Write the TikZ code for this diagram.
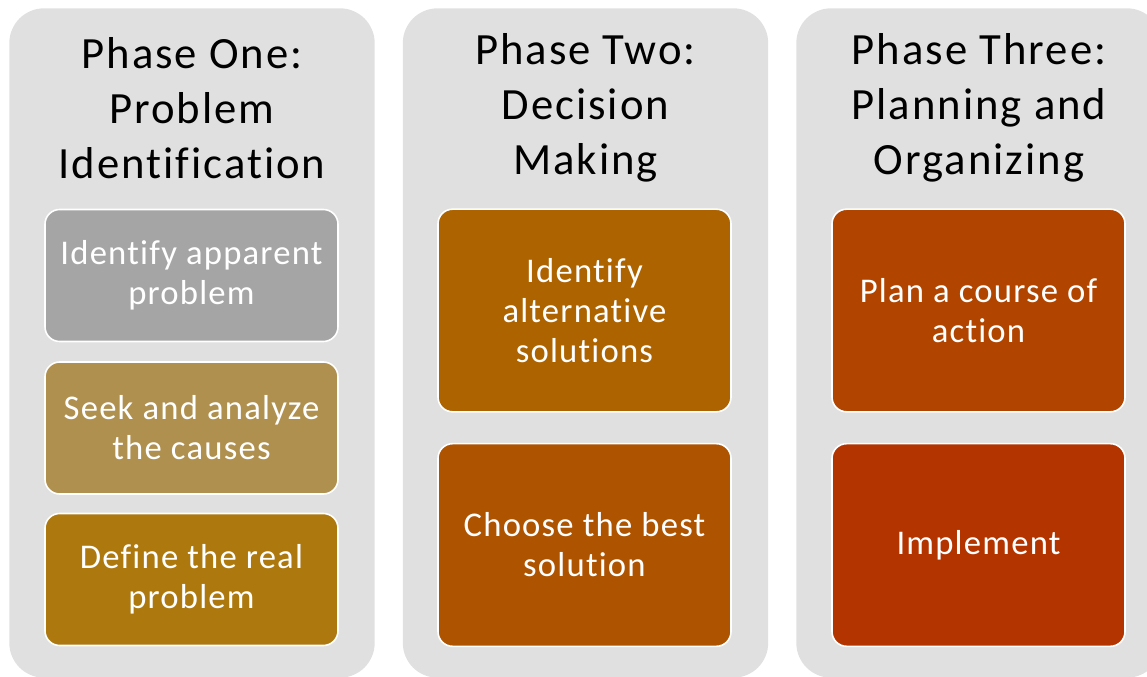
\documentclass[tikz,border=0pt]{standalone}
\usepackage{fontspec}
\setmainfont{Carlito}[Ligatures=NoCommon]
\newfontfamily\phasefont{Carlito}[LetterSpace=4.5,Ligatures=NoCommon]
\newfontfamily\stepfont{Carlito}[LetterSpace=3.5,Ligatures=NoCommon]
\usepackage{xcolor}
\definecolor{phasebg}{HTML}{E0E0E0}
\definecolor{stepgray}{HTML}{A5A5A5}
\definecolor{steptan}{HTML}{B0904F}
\definecolor{stepochre}{HTML}{AD780E}
\definecolor{stepamber}{HTML}{AD6300}
\definecolor{steprust}{HTML}{AE5300}
\definecolor{stepbrick}{HTML}{B14500}
\definecolor{stepred}{HTML}{B43400}

\begin{document}
\begin{tikzpicture}[x=0.75pt,y=0.75pt,yscale=-1,xscale=1,
    phase/.style={fill=phasebg, draw=none, rounded corners=26pt, minimum width=274pt, minimum height=502pt, inner sep=0pt},
    phasetitle/.style={align=center, inner sep=0pt, font=\phasefont\fontsize{33.5}{41.2}\selectfont},
    stepbox/.style={draw=white, line width=1.2pt, rounded corners=11pt, minimum width=219.75pt, inner sep=0pt, align=center, text=white, font=\stepfont\fontsize{26}{30}\selectfont},
    short/.style={minimum height=99pt},
    tall/.style={minimum height=152pt}]
        \clip (0,0) rectangle (1147,677);
        
        %Shape: Phase columns
        \node [phase] (one) at (192,343) {};
        \node [phase] (two) at (585.5,343) {};
        \node [phase] (three) at (979,343) {};
        
        % Text Node
        \node [phasetitle] (onetitle) at (192,108) {Phase One:\\Problem\\Identification};
        % Text Node
        \node [phasetitle] (twotitle) at (585.5,108) {Phase Two:\\Decision\\Making};
        % Text Node
        \node [phasetitle] (threetitle) at (979,108) {Phase Three:\\Planning and\\Organizing};
        
        %Shape: Steps of phase one
        \node [stepbox, short, fill=stepgray] (apparent) at (191.5,275.5) {Identify apparent\\problem};
        \node [stepbox, short, fill=steptan] (causes) at (191.5,428) {Seek and analyze\\the causes};
        \node [stepbox, short, fill=stepochre] (define) at (191.5,579.5) {Define the real\\problem};
        
        %Shape: Steps of phase two
        \node [stepbox, tall, fill=stepamber] (alternatives) at (584.5,310.5) {Identify\\alternative\\solutions};
        \node [stepbox, tall, fill=steprust] (choose) at (584.5,545) {Choose the best\\solution};
        
        %Shape: Steps of phase three
        \node [stepbox, tall, fill=stepbrick] (plan) at (978.5,310.5) {Plan a course of\\action};
        \node [stepbox, tall, fill=stepred] (implement) at (978.5,545) {Implement};
        
\end{tikzpicture}
\end{document}
